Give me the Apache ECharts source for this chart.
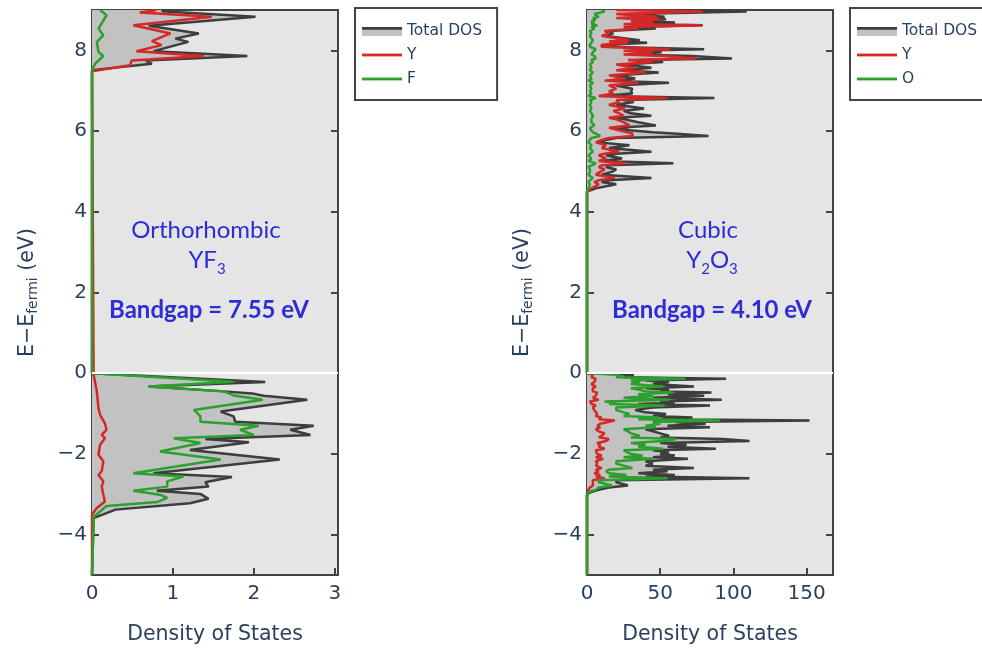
<!DOCTYPE html>
<html><head><meta charset="utf-8">
<script src="https://cdn.jsdelivr.net/npm/echarts@6/dist/echarts.min.js"></script>
<style>html,body{margin:0;padding:0;background:#fff}#c{width:982px;height:650px}</style>
</head><body><div id="c"></div>
<script>
// ===== DATA =====
// YF3 (left panel): [energy (eV), density of states]
const yf3Total = [[-5,0],[-3.59,0.02],[-3.38,0.29],[-3.22,1.21],[-3.11,1.44],[-2.99,1.34],[-2.91,0.80],[-2.81,1.44],[-2.70,1.40],[-2.57,1.73],[-2.48,0.76],[-2.14,2.32],[-1.90,1.21],[-1.71,1.94],[-1.63,1.40],[-1.53,2.70],[-1.40,2.45],[-1.30,2.74],[-1.20,1.77],[-1.07,1.75],[-0.95,1.59],[-0.66,2.66],[-0.56,2.12],[-0.50,1.98],[-0.45,1.63],[-0.33,0.70],[-0.22,2.14],[0,0],[7.51,0],[7.67,0.74],[7.75,0.66],[7.86,1.92],[7.98,0.76],[8.21,1.19],[8.29,1.03],[8.42,1.32],[8.61,0.70],[8.83,2.02],[8.97,0.86],[9.0,1.0]];
const yf3Y = [[-5,0],[-3.5,0],[-3.34,0.06],[-3.18,0.16],[-3.01,0.14],[-2.81,0.12],[-2.68,0.14],[-2.52,0.08],[-2.43,0.12],[-2.18,0.14],[-2.02,0.08],[-1.77,0.10],[-1.61,0.16],[-1.53,0.12],[-1.40,0.18],[-1.24,0.16],[-1.03,0.10],[-0.87,0.08],[-0.45,0.06],[-0.04,0.02],[0,0],[7.48,0],[7.51,0.02],[7.63,0.47],[7.75,0.49],[7.86,1.38],[7.98,0.55],[8.13,0.86],[8.23,0.74],[8.42,0.97],[8.62,0.51],[8.83,1.48],[8.94,0.59],[9.0,0.8]];
const yf3F = [[-5,0],[-3.56,0.02],[-3.29,0.18],[-3.19,0.81],[-3.09,0.93],[-3.01,0.84],[-2.91,0.51],[-2.81,0.93],[-2.68,0.93],[-2.56,1.13],[-2.48,0.51],[-2.14,1.59],[-1.94,0.84],[-1.73,1.34],[-1.61,1.01],[-1.53,2.0],[-1.40,1.83],[-1.30,2.06],[-1.20,1.34],[-1.07,1.34],[-0.91,1.26],[-0.66,2.11],[-0.55,1.75],[-0.45,1.63],[-0.33,0.70],[-0.21,1.75],[0,0],[7.51,0],[7.67,0.04],[7.86,0.14],[7.96,0.08],[8.21,0.06],[8.37,0.14],[8.54,0.08],[8.87,0.18],[9.0,0.1]];

// Y2O3 (right panel) valence band
const y2o3ValE = [0,-0.04,-0.10,-0.14,-0.18,-0.22,-0.27,-0.33,-0.37,-0.41,-0.45,-0.48,-0.52,-0.56,-0.61,-0.66,-0.70,-0.73,-0.76,-0.80,-0.85,-0.91,-0.97,-1.01,-1.06,-1.10,-1.14,-1.17,-1.21,-1.25,-1.30,-1.34,-1.39,-1.44,-1.49,-1.55,-1.59,-1.63,-1.68,-1.73,-1.77,-1.82,-1.87,-1.91,-1.96,-2.00,-2.04,-2.08,-2.12,-2.18,-2.24,-2.29,-2.35,-2.39,-2.43,-2.48,-2.52,-2.56,-2.60,-2.65,-2.70,-2.74,-2.78,-2.83,-2.89,-2.93,-2.97,-3.03];
const y2o3ValTotal = [0,32,25,95,40,56,45,73,40,56,50,85,55,80,45,92,50,60,35,84,45,33,40,54,45,72,50,152,60,81,55,84,40,45,50,56,50,93,111,50,68,55,88,45,56,50,60,45,69,40,45,40,73,45,55,35,60,40,111,20,20,27,28,15,8,4,1,0];
const y2o3ValY = [0,4,3,6,4,5,3,6,4,5,4,7,5,6,4,8,2,4,3,6,4,5,6,7,6,10,8,19,10,9,7,9,6,8,12,10,8,15,13,7,9,8,12,6,8,7,10,6,11,6,7,6,10,6,8,5,9,6,12,4,4,5,4,2,1,0.5,0,0];
const y2o3ValO = [0,22,20,67,30,36,30,52,30,36,40,59,35,45,25,56,12,20,15,53,20,20,25,29,25,49,35,91,45,50,40,47,25,28,30,36,30,61,52,30,40,35,52,25,29,30,38,25,45,20,20,25,31,15,13,15,27,15,55,8,8,18,17,8,6,2,0.5,0];
// Y2O3 conduction band
const y2o3ConE = [9.0,8.96,8.90,8.83,8.80,8.77,8.72,8.69,8.65,8.62,8.58,8.54,8.48,8.42,8.36,8.30,8.25,8.22,8.19,8.14,8.09,8.03,7.99,7.95,7.90,7.86,7.80,7.76,7.71,7.65,7.57,7.51,7.45,7.38,7.30,7.25,7.20,7.13,7.05,6.98,6.93,6.87,6.82,6.77,6.72,6.65,6.56,6.50,6.44,6.38,6.33,6.29,6.22,6.14,6.08,6.02,5.97,5.94,5.88,5.83,5.78,5.72,5.65,5.58,5.49,5.44,5.40,5.32,5.26,5.20,5.15,5.11,5.05,4.99,4.92,4.84,4.78,4.74,4.68,4.58,4.50];
const y2o3ConTotal = [60,109,30,53,25,54,35,60,30,79,30,47,15,18,12,25,36,20,41,15,13,80,30,51,30,72,99,35,52,25,44,25,49,20,33,15,56,20,31,30,31,10,87,25,32,20,39,25,30,44,20,26,35,47,20,29,45,59,83,20,13,8,29,15,44,20,13,24,10,59,15,13,20,17,10,44,15,10,20,6,0];
const y2o3ConY = [20,79,20,48,20,50,30,45,25,78,25,35,12,15,10,20,29,15,28,10,10,57,25,45,25,52,74,28,45,20,33,20,40,15,26,12,35,15,20,15,18,8,55,20,22,15,26,18,22,25,15,20,25,29,15,22,30,31,31,15,10,6,13,10,22,12,8,13,8,26,10,8,12,9,6,19,8,5,8,3,0];
const y2o3ConO = [10,12,5,8,4,6,3,5,3,7,3,5,2,3,2,3,4,2,3,2,2,6,3,4,3,5,6,3,4,2,3,2,4,2,3,1,4,2,3,2,3,1,6,2,3,2,3,2,3,4,2,3,3,5,2,3,4,6,9,3,2,1,3,2,4,2,1,3,1,6,2,1,2,2,1,4,2,1,2,1,0];

const xTicksLeft = [0,1,2,3];
const xTicksRight = [0,50,100,150];
const yTicks = [-4,-2,0,2,4,6,8];

// ===== BUILD =====
function buildPts(valE, valV, conE, conV) {
  const pts = [[-5, 0]];
  for (let i = valE.length - 1; i >= 0; i--) pts.push([valE[i], valV[i]]);
  for (let i = conE.length - 1; i >= 0; i--) pts.push([conE[i], conV[i]]);
  return pts;
}
const y2o3Total = buildPts(y2o3ValE, y2o3ValTotal, y2o3ConE, y2o3ConTotal);
const y2o3Y = buildPts(y2o3ValE, y2o3ValY, y2o3ConE, y2o3ConY);
const y2o3O = buildPts(y2o3ValE, y2o3ValO, y2o3ConE, y2o3ConO);

const C_TOTAL = '#3d3d3d', C_FILL = '#c2c2c2', C_RED = '#d62728', C_GREEN = '#2ca02c';
const FONT = "'DejaVu Sans', Verdana, sans-serif", TXT = '#2a3f5f', BLUE = '#2d2dd6';

const svgIcon = s => 'image://data:image/svg+xml;charset=utf-8,' + encodeURIComponent(s);
const totalIcon = svgIcon("<svg xmlns='http://www.w3.org/2000/svg' width='40' height='12'><rect x='0' y='4.5' width='40' height='6.5' fill='" + C_FILL + "'/><rect x='0' y='2' width='40' height='2.8' fill='" + C_TOTAL + "'/></svg>");
const lineIcon = c => svgIcon("<svg xmlns='http://www.w3.org/2000/svg' width='40' height='12'><rect x='0' y='4.6' width='40' height='2.8' fill='" + c + "'/></svg>");

const swap = pts => pts.map(p => [p[1], p[0]]);

function fillSeries(pts, gi) {
  return {
    type: 'custom', name: 'fill' + gi, xAxisIndex: gi * 2, yAxisIndex: gi * 2, z: 1, silent: true, clip: true,
    data: swap(pts),
    renderItem: function (params, api) {
      if (params.dataIndex !== 0) return null;
      const poly = [api.coord([0, pts[0][0]])];
      pts.forEach(p => poly.push(api.coord([p[1], p[0]])));
      poly.push(api.coord([0, pts[pts.length - 1][0]]));
      return { type: 'polygon', shape: { points: poly }, style: { fill: C_FILL } };
    },
    markLine: { silent: true, symbol: ['none', 'none'], label: { show: false },
      lineStyle: { color: '#ffffff', width: 2, type: 'solid' }, data: [{ yAxis: 0 }] }
  };
}
function lineSeries(name, pts, gi, color, z) {
  return { type: 'line', name, xAxisIndex: gi * 2, yAxisIndex: gi * 2, data: swap(pts), showSymbol: false, symbol: 'none',
    z, lineStyle: { color, width: 2.5 }, itemStyle: { color }, animation: false };
}

function xAxes(gi, max, ticks) {
  const step = ticks[1] - ticks[0];
  const base = { type: 'value', gridIndex: gi, min: 0, max, interval: step,
    axisLine: { show: false, onZero: false }, splitLine: { show: false } };
  return [
    Object.assign({}, base, {
      position: 'bottom',
      axisTick: { show: true, inside: true, length: 7, lineStyle: { color: '#444', width: 2 } },
      axisLabel: { fontFamily: FONT, fontSize: 20, color: TXT, margin: 9,
        formatter: v => ticks.indexOf(Math.round(v * 1000) / 1000) >= 0 ? String(v) : '' },
      name: 'Density of States', nameLocation: 'middle', nameGap: 49,
      nameTextStyle: { fontFamily: FONT, fontSize: 20.5, color: TXT }
    }),
    Object.assign({}, base, { position: 'top', axisTick: { show: false }, axisLabel: { show: false } })
  ];
}
function yAxes(gi) {
  const base = { type: 'value', gridIndex: gi, min: -5, max: 9, splitNumber: 7,
    axisLine: { show: false, onZero: false }, splitLine: { show: false },
    axisTick: { show: true, inside: true, length: 7, lineStyle: { color: '#444', width: 2 } } };
  const fmt = v => yTicks.indexOf(Math.round(v * 1000) / 1000) >= 0 ? (v < 0 ? '\u2212' + Math.abs(v) : String(v)) : '';
  return [
    Object.assign({}, base, {
      position: 'left',
      axisLabel: { fontFamily: FONT, fontSize: 20, color: TXT, margin: 5, formatter: fmt },
      name: '{a|E\u2212E}{s|fermi}{a| (eV)}', nameLocation: 'middle', nameGap: 52, nameRotate: 90,
      nameTextStyle: { color: TXT, fontFamily: FONT,
        rich: { a: { fontFamily: FONT, fontSize: 20.5, color: TXT, lineHeight: 25 },
                s: { fontFamily: FONT, fontSize: 14, color: TXT, verticalAlign: 'bottom' } } }
    }),
    Object.assign({}, base, { position: 'right', axisLabel: { show: false } })
  ];
}

function legendFor(left, third) {
  return {
    orient: 'vertical', left, top: 8, itemWidth: 40, itemHeight: 12, itemGap: 8,
    padding: [15, 15, 13, 7], backgroundColor: '#fff', borderColor: '#444', borderWidth: 2,
    selectedMode: false,
    textStyle: { fontFamily: FONT, fontSize: 15.5, color: TXT },
    data: [{ name: 'Total DOS', icon: totalIcon }, { name: 'Y', icon: lineIcon(C_RED) }, { name: third, icon: lineIcon(C_GREEN) }]
  };
}

function annot(x, y, text, size, weight, rich) {
  const style = { text, x: 0, y: 0, align: 'center', verticalAlign: 'middle',
    fontFamily: 'Lato', fontSize: size, fontWeight: weight, fill: BLUE };
  if (rich) style.rich = rich;
  return { type: 'text', x, y, z: 100, silent: true, style };
}
const subRich = { m: { fontFamily: 'Lato', fontSize: 24, lineHeight: 33, fill: BLUE, color: BLUE },
                  s: { fontFamily: 'Lato', fontSize: 15, verticalAlign: 'bottom', fill: BLUE, color: BLUE } };

const option = {
  animation: false,
  backgroundColor: '#ffffff',
  grid: [
    { left: 92, top: 10, width: 246, height: 568, show: true, backgroundColor: '#e5e5e5', borderColor: '#444', borderWidth: 2 },
    { left: 587, top: 10, width: 246, height: 568, show: true, backgroundColor: '#e5e5e5', borderColor: '#444', borderWidth: 2 }
  ],
  xAxis: [...xAxes(0, 3.04, xTicksLeft), ...xAxes(1, 168, xTicksRight)],
  yAxis: [...yAxes(0), ...yAxes(1)],
  legend: [legendFor(355, 'F'), legendFor(850, 'O')],
  series: [
    fillSeries(yf3Total, 0),
    lineSeries('Total DOS', yf3Total, 0, C_TOTAL, 2),
    lineSeries('Y', yf3Y, 0, C_RED, 3),
    lineSeries('F', yf3F, 0, C_GREEN, 4),
    fillSeries(y2o3Total, 1),
    lineSeries('Total DOS', y2o3Total, 1, C_TOTAL, 2),
    lineSeries('Y', y2o3Y, 1, C_RED, 3),
    lineSeries('O', y2o3O, 1, C_GREEN, 4)
  ],
  graphic: [
    annot(206, 230, 'Orthorhombic', 24, 'normal'),
    annot(207, 260, '{m|YF}{s|3}', 24, 'normal', subRich),
    annot(209, 310, 'Bandgap = 7.55 eV', 24, 'bold'),
    annot(708, 230, 'Cubic', 24, 'normal'),
    annot(712, 260, '{m|Y}{s|2}{m|O}{s|3}', 24, 'normal', subRich),
    annot(712, 310, 'Bandgap = 4.10 eV', 24, 'bold')
  ]
};
const chart = echarts.init(document.getElementById('c'), null, { renderer: 'canvas' });
chart.setOption(option);
</script></body></html>
